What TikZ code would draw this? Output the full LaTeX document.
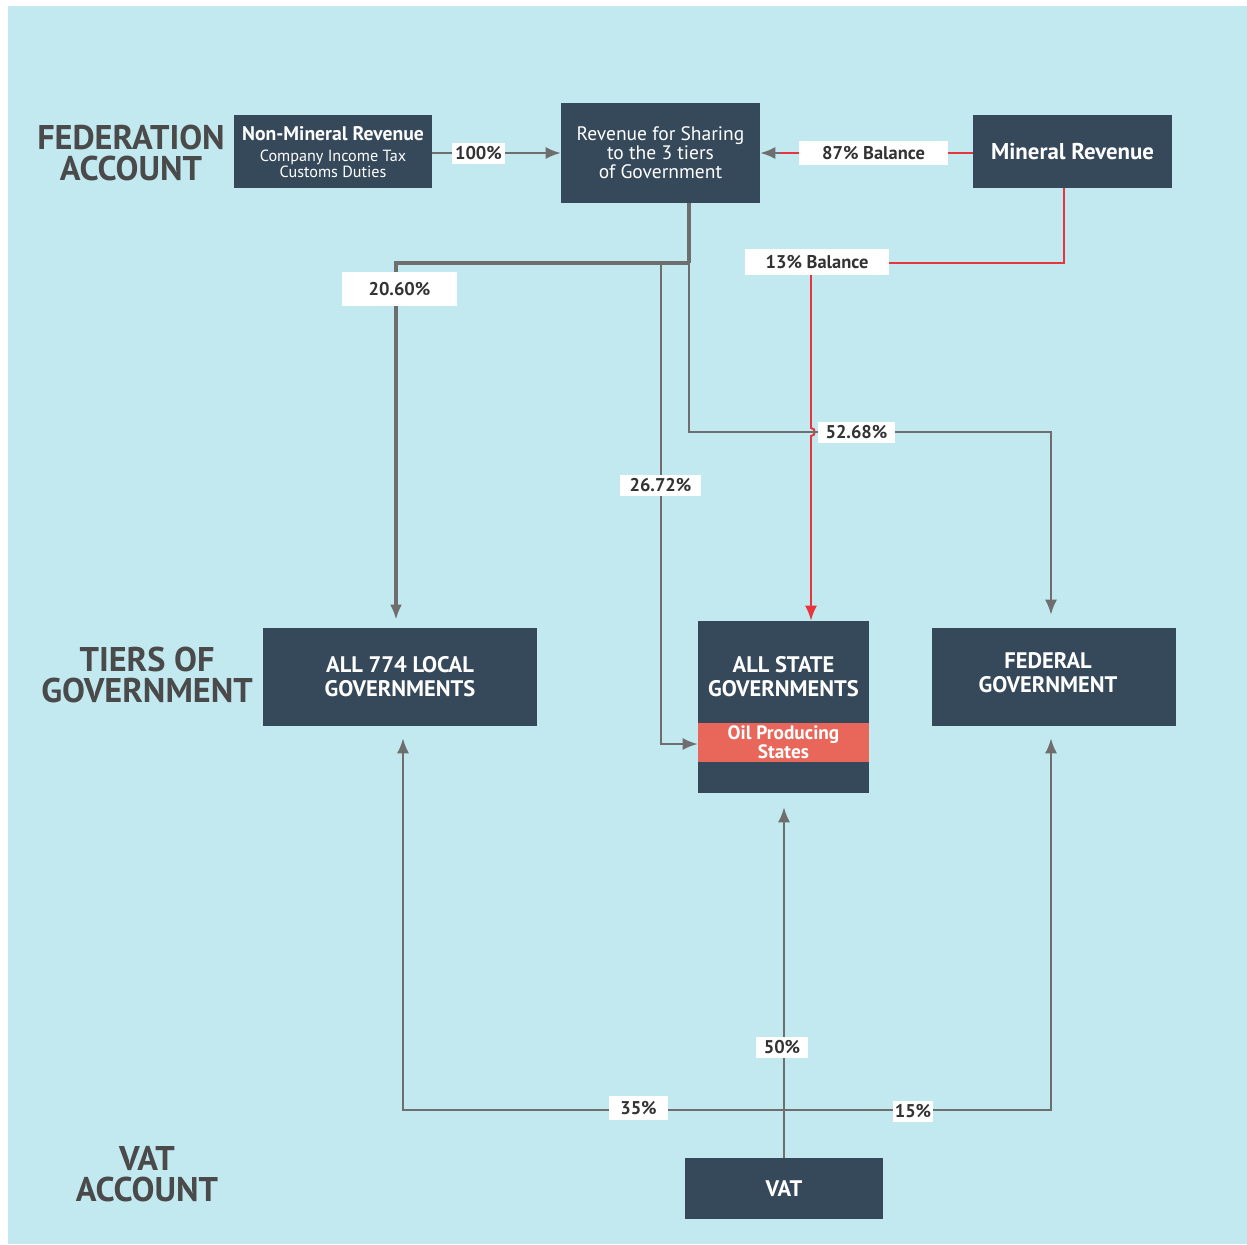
\documentclass[tikz,border=0pt]{standalone}
\usepackage{fontspec}
\setmainfont{PT Sans}
\usepackage{tikz}
\usetikzlibrary{arrows.meta}
\usetikzlibrary{positioning}
\definecolor{bgblue}{HTML}{C2E9F0}
\definecolor{boxblue}{HTML}{36495A}
\definecolor{flowgray}{HTML}{6E6E6E}
\definecolor{flowred}{HTML}{E8343C}
\definecolor{oilred}{HTML}{E8665A}
\definecolor{headgray}{HTML}{4A4A4A}
\definecolor{sharetext}{HTML}{333333}
\newcommand{\tierfont}{\bfseries\fontsize{12.8}{13.6}\selectfont}
\tikzstyle{account} = [text=headgray, align=center, inner sep=0pt, font=\bfseries\fontsize{19.5}{18}\selectfont]
\tikzstyle{darkbox} = [rectangle, fill=boxblue, text=white, align=center, inner sep=0pt]
\tikzstyle{boxtext} = [text=white, align=center, inner sep=0pt]
\tikzstyle{oilband} = [rectangle, fill=oilred, text=white, align=center, inner sep=0pt, font=\bfseries\fontsize{11}{10.8}\selectfont]
\tikzstyle{share} = [rectangle, fill=white, text=sharetext, inner sep=0pt, font=\bfseries\fontsize{10.5}{11}\selectfont]
\tikzstyle{flow} = [draw=flowgray, line width=1.1pt, -{Latex[length=3mm, width=2.4mm]}]
\tikzstyle{mainflow} = [draw=flowgray, line width=2.3pt]
\tikzstyle{vatflow} = [draw=flowgray, line width=1.5pt]
\tikzstyle{redflow} = [draw=flowred, line width=1.1pt]

\begin{document}
\begin{tikzpicture}[x=0.02cm, y=-0.02cm]
	\useasboundingbox (0,0) rectangle (1247,1244);
	\fill[bgblue] (8,6) rectangle (1247,1244);

	% accounts
	\node [account] (FA) at (131,153) {FEDERATION\\ACCOUNT};
	\node [account] (TG) at (147,675) {TIERS OF\\GOVERNMENT};
	\node [account] (VA) at (147,1174) {VAT\\ACCOUNT};

	% revenue
	\node [darkbox, minimum width=3.96cm, minimum height=1.46cm] (B) at (333,151.5) {};
	\node [boxtext, font=\bfseries\fontsize{11.2}{12}\selectfont] (Bt) at (333,133.5) {Non-Mineral Revenue};
	\node [boxtext, font=\fontsize{9.2}{8}\selectfont] (Bs) at (333,164) {Company Income Tax\\Customs Duties};
	\node [darkbox, minimum width=3.98cm, minimum height=2cm, font=\fontsize{11.1}{10.9}\selectfont] (A) at (660.5,153) {Revenue for Sharing\\to the 3 tiers\\of Government};
	\node [darkbox, minimum width=3.98cm, minimum height=1.46cm, font=\bfseries\fontsize{13}{14}\selectfont] (C) at (1072.5,151.5) {Mineral Revenue};

	% tiers of government
	\node [darkbox, minimum width=5.48cm, minimum height=1.96cm, font=\tierfont] (L) at (400,677) {ALL 774 LOCAL\\GOVERNMENTS};
	\node [darkbox, minimum width=3.42cm, minimum height=3.44cm] (S) at (783.5,707) {};
	\node [boxtext, font=\tierfont] (St) at (783.5,677) {ALL STATE\\GOVERNMENTS};
	\node [oilband, minimum width=3.42cm, minimum height=0.78cm] (O) at (783.5,742.5) {Oil Producing\\States};
	\node [darkbox, minimum width=4.88cm, minimum height=1.96cm] (F) at (1054,677) {};
	\node [boxtext, font=\tierfont] (Ft) at (1048,673) {FEDERAL\\GOVERNMENT};
	\node [darkbox, minimum width=3.96cm, minimum height=1.22cm, font=\tierfont] (V) at (784,1188.5) {VAT};

	% bends
	\coordinate (M1) at (689,263);
	\coordinate (M2) at (396,263);
	\coordinate (K1) at (661,263);
	\coordinate (K2) at (661,744);
	\coordinate (N1) at (689,432);
	\coordinate (N2) at (1051,432);
	\coordinate (R1) at (811,263);
	\coordinate (R2) at (1064,263);
	\coordinate (H1) at (811,428);
	\coordinate (H2) at (811,436);
	\coordinate (T1) at (780,153);
	\coordinate (X1) at (784,1110);
	\coordinate (Y1) at (403,1110);
	\coordinate (Y2) at (1051,1110);

	% connections
	\draw[flow] (B.east |- T1) -- (A.west |- T1);
	\draw[redflow] (C.west |- T1) -- (T1);
	\draw[flow] (T1) -- (A.east |- T1);
	\draw[redflow] (C.south -| R2) -- (R2) -- (R1);
	\draw[redflow, -{Latex[length=3mm, width=2.4mm]}] (R1) -- (H1) .. controls (816,428) and (816,436) .. (H2) -- (S.north -| R1);

	\draw[mainflow] (A.south -| M1) -- (M1);
	\draw[mainflow, -{Latex[length=3mm, width=2.4mm]}, shorten >=0.16cm] (M1) -- (M2) -- (L.north -| M2);
	\draw[flow, shorten >=0.26cm] (M1) -- (N1) -- (N2) -- (F.north -| N2);
	\draw[flow] (K1) -- (K2) -- (S.west |- K2);

	\draw[vatflow] (V.north) -- (X1);
	\draw[flow, shorten >=0.28cm] (X1) -- (S.south -| X1);
	\draw[flow, shorten >=0.24cm] (X1) -- (Y1) -- (L.south -| Y1);
	\draw[flow, shorten >=0.24cm] (X1) -- (Y2) -- (F.south -| Y2);

	% shares
	\node [share, minimum width=1.06cm, minimum height=0.42cm] (P1) at (478.5,153.5) {100\%};
	\node [share, minimum width=2.98cm, minimum height=0.48cm] (P2) at (873.5,153) {87\% Balance};
	\node [share, minimum width=2.88cm, minimum height=0.52cm] (P3) at (817,262) {13\% Balance};
	\node [share, minimum width=2.3cm, minimum height=0.68cm] (P4) at (399.5,289) {20.60\%};
	\node [share, minimum width=1.54cm, minimum height=0.42cm] (P5) at (856.5,432.5) {52.68\%};
	\node [share, minimum width=1.62cm, minimum height=0.42cm] (P6) at (660.5,485.5) {26.72\%};
	\node [share, minimum width=1.04cm, minimum height=0.42cm] (P7) at (782,1047.5) {50\%};
	\node [share, minimum width=1.18cm, minimum height=0.48cm] (P8) at (638.5,1108) {35\%};
	\node [share, minimum width=0.8cm, minimum height=0.42cm] (P9) at (913,1111.5) {15\%};
\end{tikzpicture}
\end{document}
